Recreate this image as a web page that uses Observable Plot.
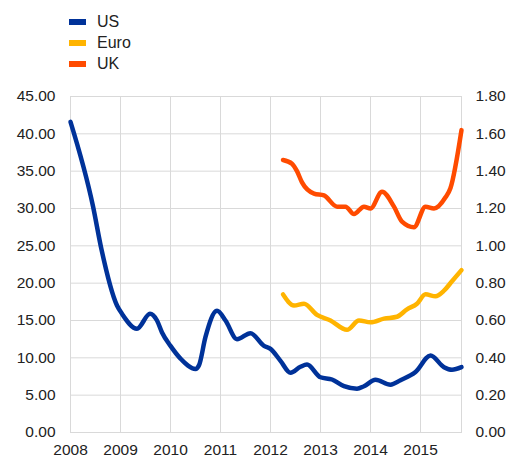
<!DOCTYPE html>
<html>
<head>
<meta charset="utf-8">
<script src="https://cdn.jsdelivr.net/npm/d3@7"></script>
<script src="https://cdn.jsdelivr.net/npm/@observablehq/plot@0.6"></script>
<style>
  html, body { margin: 0; padding: 0; background: #fff; }
  body { width: 507px; height: 457px; overflow: hidden; font-family: "Liberation Sans", Arial, sans-serif; color: #222; }
  #legend { position: relative; height: 82px; }
  .sw { position: absolute; left: 69px; width: 17px; height: 6px; }
  .lab { position: absolute; left: 97px; font-size: 16px; line-height: 16px; white-space: nowrap; }
</style>
</head>
<body>
<div id="legend"></div>
<div id="chart"></div>
<script>
// ---- data ----
const seriesNames = ["US", "Euro", "UK"];
const seriesColors = ["#003299", "#FFB400", "#FF4B00"];

const usT = [2008.0, 2008.45, 2008.62, 2008.93, 2009.03, 2009.33, 2009.59, 2009.73, 2009.83, 2010.0, 2010.2, 2010.5, 2010.57, 2010.7, 2010.93, 2011.1, 2011.33, 2011.6, 2011.87, 2012.0, 2012.2, 2012.4, 2012.6, 2012.73, 2013.0, 2013.23, 2013.47, 2013.73, 2013.87, 2014.1, 2014.4, 2014.6, 2014.9, 2015.2, 2015.47, 2015.63, 2015.82];
const usV = [41.6, 30.3, 24.5, 17.0, 15.9, 13.9, 15.9, 15.0, 13.4, 11.6, 9.9, 8.5, 9.0, 12.8, 16.3, 15.0, 12.5, 13.3, 11.6, 11.2, 9.6, 8.0, 8.8, 9.1, 7.4, 7.1, 6.2, 5.85, 6.2, 7.05, 6.4, 7.0, 8.1, 10.3, 8.75, 8.4, 8.75];

const euT = [2012.25, 2012.47, 2012.67, 2012.93, 2013.2, 2013.53, 2013.77, 2014.0, 2014.27, 2014.53, 2014.73, 2014.93, 2015.1, 2015.3, 2015.47, 2015.63, 2015.82];
const euV = [0.74, 0.68, 0.69, 0.63, 0.60, 0.55, 0.60, 0.59, 0.61, 0.62, 0.66, 0.69, 0.74, 0.73, 0.76, 0.81, 0.87];

const ukT = [2012.25, 2012.43, 2012.53, 2012.63, 2012.87, 2013.07, 2013.33, 2013.5, 2013.67, 2013.87, 2014.0, 2014.23, 2014.47, 2014.63, 2014.87, 2015.1, 2015.27, 2015.5, 2015.6, 2015.82];
const ukV = [1.46, 1.44, 1.40, 1.34, 1.28, 1.27, 1.21, 1.21, 1.17, 1.21, 1.20, 1.29, 1.21, 1.13, 1.10, 1.21, 1.20, 1.26, 1.31, 1.62];

const xTicks = [2008, 2009, 2010, 2011, 2012, 2013, 2014, 2015];
const xEnd = 2015.82;
const leftTicks = [0, 5, 10, 15, 20, 25, 30, 35, 40, 45];
const rightTicks = [0, 0.2, 0.4, 0.6, 0.8, 1.0, 1.2, 1.4, 1.6, 1.8];

// ---- build ----
const leftMax = 45, rightMax = 1.8;
const ratio = leftMax / rightMax;
const us = usT.map((t, i) => ({t, v: usV[i]}));
const eu = euT.map((t, i) => ({t, v: euV[i]}));
const uk = ukT.map((t, i) => ({t, v: ukV[i]}));

// legend
const legend = document.getElementById("legend");
const rowY = [22, 43, 64];
seriesNames.forEach((n, i) => {
  const sw = document.createElement("div");
  sw.className = "sw";
  sw.style.top = (rowY[i] - 3) + "px";
  sw.style.background = seriesColors[i];
  legend.appendChild(sw);
  const lab = document.createElement("div");
  lab.className = "lab";
  lab.style.top = (rowY[i] - 8) + "px";
  lab.textContent = n;
  legend.appendChild(lab);
});

const grid = "#d9d9d9";
const chart = Plot.plot({
  width: 507,
  height: 375,
  marginTop: 14,
  marginBottom: 25,
  marginLeft: 70,
  marginRight: 46,
  style: {fontFamily: "'Liberation Sans', Arial, sans-serif", fontSize: "15.5px", color: "#222", background: "#fff"},
  x: {domain: [2008, xEnd]},
  y: {domain: [0, leftMax]},
  marks: [
    Plot.gridY(leftTicks, {stroke: grid, strokeOpacity: 1}),
    Plot.gridX(xTicks, {stroke: grid, strokeOpacity: 1}),
    Plot.frame({stroke: grid}),
    Plot.axisY(leftTicks, {anchor: "left", tickSize: 0, tickPadding: 15, tickFormat: d => d.toFixed(2), label: null}),
    Plot.axisY(rightTicks.map(d => d * ratio), {anchor: "right", tickSize: 0, tickPadding: 14, tickFormat: d => (d / ratio).toFixed(2), label: null}),
    Plot.axisX(xTicks, {anchor: "bottom", tickSize: 0, tickPadding: 11, tickFormat: d => String(d), label: null}),
    Plot.line(us, {x: "t", y: "v", stroke: seriesColors[0], strokeWidth: 4.5, curve: "monotone-x", strokeLinecap: "round", strokeLinejoin: "round"}),
    Plot.line(eu, {x: "t", y: d => d.v * ratio, stroke: seriesColors[1], strokeWidth: 4.5, curve: "monotone-x", strokeLinecap: "round", strokeLinejoin: "round"}),
    Plot.line(uk, {x: "t", y: d => d.v * ratio, stroke: seriesColors[2], strokeWidth: 4.5, curve: "monotone-x", strokeLinecap: "round", strokeLinejoin: "round"})
  ]
});
document.getElementById("chart").appendChild(chart);
</script>
</body>
</html>
